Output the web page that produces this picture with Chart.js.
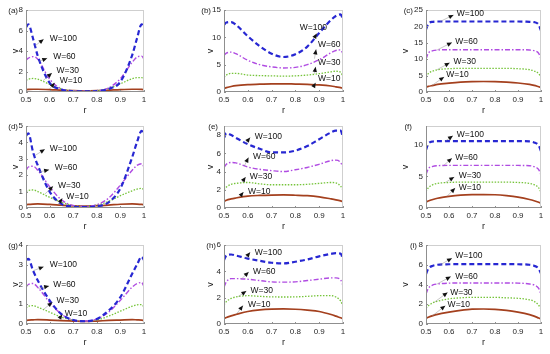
<!DOCTYPE html>
<html>
<head>
<meta charset="utf-8">
<script src="https://cdn.jsdelivr.net/npm/chart.js@4"></script>
<style>
  body { margin: 0; background: #fff; }
  #wrap { position: relative; width: 550px; height: 354px; overflow: hidden; background: #fff; }
  #wrap canvas { position: absolute; }
</style>
</head>
<body>
<div id="wrap"></div>
<script>
// Radial positions shared by all nine panels
const R = [0.5, 0.51, 0.53, 0.55, 0.6, 0.65, 0.7, 0.75, 0.8, 0.85, 0.9, 0.95, 0.97, 0.99, 1.0];
const W_LABELS = ['W=100', 'W=60', 'W=30', 'W=10'];
const PANEL_LABELS = ['(a)', '(b)', '(c)', '(d)', '(e)', '(f)', '(g)', '(h)', '(i)'];
const X_TICKS = [0.5, 0.6, 0.7, 0.8, 0.9, 1];
const Y_MAX = [8, 15, 25, 5, 9, 13, 4, 6, 8];
const Y_STEP = [2, 5, 5, 1, 2, 5, 1, 2, 2];

// (a)
const a100 = [6.3, 6.6, 5.2, 3.5, 0.9, 0.25, 0.08, 0.06, 0.1, 0.3, 1.0, 3.6, 5.2, 6.6, 6.4];
const a60  = [3.1, 3.3, 3.45, 3.2, 1.25, 0.3, 0.1, 0.08, 0.12, 0.4, 1.3, 2.9, 3.4, 3.5, 3.2];
const a30  = [1.15, 1.25, 1.32, 1.25, 0.75, 0.3, 0.12, 0.08, 0.12, 0.35, 0.8, 1.3, 1.4, 1.4, 1.3];
const a10  = [0.22, 0.25, 0.27, 0.27, 0.24, 0.18, 0.13, 0.11, 0.13, 0.18, 0.24, 0.27, 0.27, 0.25, 0.22];
// (b)
const b100 = [12.3, 12.7, 12.8, 12.3, 10.2, 8.4, 7.0, 6.4, 6.9, 8.3, 10.8, 13.2, 13.9, 14.2, 13.2];
const b60  = [6.7, 7.1, 7.3, 7.0, 5.8, 5.0, 4.6, 4.4, 4.5, 5.0, 5.9, 7.2, 7.6, 7.7, 7.0];
const b30  = [2.7, 3.1, 3.4, 3.4, 3.1, 3.0, 2.95, 2.9, 2.95, 3.1, 3.35, 3.7, 3.8, 3.6, 2.8];
const b10  = [0.6, 0.8, 1.0, 1.15, 1.35, 1.45, 1.5, 1.5, 1.45, 1.4, 1.3, 1.1, 0.95, 0.8, 0.7];
// (c)
const c100 = [19.0, 20.8, 21.4, 21.5, 21.5, 21.5, 21.5, 21.5, 21.5, 21.5, 21.5, 21.4, 21.3, 20.5, 18.7];
const c60  = [10.0, 11.8, 12.6, 12.8, 12.9, 12.9, 12.9, 12.9, 12.9, 12.9, 12.9, 12.8, 12.6, 11.8, 10.0];
const c30  = [4.6, 5.6, 6.4, 6.8, 7.1, 7.2, 7.2, 7.2, 7.2, 7.2, 7.1, 6.8, 6.4, 5.6, 4.5];
const c10  = [1.5, 1.7, 2.0, 2.3, 2.7, 3.0, 3.15, 3.2, 3.15, 3.0, 2.75, 2.3, 2.0, 1.6, 1.4];
// (d)
const d100 = [4.4, 4.55, 3.4, 2.6, 1.0, 0.25, 0.08, 0.05, 0.1, 0.35, 1.2, 3.1, 4.0, 4.7, 4.5];
const d60  = [2.3, 2.5, 2.55, 2.3, 1.3, 0.5, 0.15, 0.1, 0.2, 0.6, 1.4, 2.3, 2.6, 2.7, 2.5];
const d30  = [1.0, 1.07, 1.1, 1.0, 0.65, 0.35, 0.15, 0.1, 0.18, 0.4, 0.75, 1.05, 1.15, 1.2, 1.1];
const d10  = [0.2, 0.22, 0.24, 0.25, 0.22, 0.17, 0.13, 0.12, 0.14, 0.18, 0.23, 0.25, 0.24, 0.22, 0.2];
// (e)
const e100 = [7.7, 8.2, 8.0, 7.7, 7.0, 6.5, 6.1, 6.1, 6.3, 6.8, 7.55, 8.3, 8.5, 8.5, 7.7];
const e60  = [4.45, 4.8, 5.0, 4.95, 4.5, 4.25, 4.1, 4.0, 4.2, 4.45, 4.8, 5.2, 5.25, 5.0, 4.45];
const e30  = [2.0, 2.3, 2.6, 2.7, 2.8, 2.65, 2.55, 2.55, 2.55, 2.6, 2.7, 2.8, 2.75, 2.4, 1.95];
const e10  = [0.7, 0.85, 1.0, 1.1, 1.3, 1.38, 1.42, 1.43, 1.4, 1.35, 1.22, 1.0, 0.9, 0.78, 0.7];
// (f)
const f100 = [9.2, 10.2, 10.55, 10.6, 10.6, 10.6, 10.6, 10.6, 10.6, 10.6, 10.6, 10.55, 10.4, 9.9, 9.0];
const f60  = [5.3, 6.2, 6.6, 6.7, 6.75, 6.75, 6.75, 6.75, 6.75, 6.75, 6.75, 6.7, 6.55, 6.1, 5.2];
const f30  = [2.6, 3.2, 3.7, 3.9, 4.05, 4.1, 4.1, 4.1, 4.1, 4.1, 4.05, 3.9, 3.7, 3.2, 2.5];
const f10  = [0.93, 1.1, 1.35, 1.55, 1.85, 2.05, 2.12, 2.13, 2.1, 1.95, 1.72, 1.35, 1.15, 0.9, 0.75];
// (g)
const g100 = [3.23, 3.3, 2.7, 2.2, 1.2, 0.5, 0.2, 0.14, 0.25, 0.68, 1.36, 2.55, 3.0, 3.4, 3.23];
const g60  = [1.87, 2.0, 2.05, 1.85, 1.1, 0.5, 0.2, 0.15, 0.25, 0.6, 1.2, 1.87, 2.05, 2.1, 1.9];
const g30  = [0.82, 0.9, 0.93, 0.85, 0.6, 0.35, 0.2, 0.15, 0.2, 0.4, 0.65, 0.9, 0.97, 0.98, 0.85];
const g10  = [0.18, 0.2, 0.21, 0.22, 0.2, 0.17, 0.15, 0.13, 0.15, 0.18, 0.2, 0.22, 0.21, 0.2, 0.18];
// (h)
const h100 = [4.85, 5.2, 5.28, 5.2, 4.97, 4.8, 4.65, 4.6, 4.73, 4.9, 5.14, 5.33, 5.38, 5.35, 4.9];
const h60  = [2.8, 3.2, 3.45, 3.45, 3.4, 3.3, 3.2, 3.18, 3.2, 3.3, 3.4, 3.5, 3.5, 3.35, 2.9];
const h30  = [1.45, 1.7, 1.95, 2.05, 2.15, 2.1, 2.06, 2.05, 2.06, 2.1, 2.15, 2.15, 2.05, 1.75, 1.35];
const h10  = [0.41, 0.5, 0.62, 0.72, 0.95, 1.07, 1.13, 1.15, 1.12, 1.05, 0.95, 0.72, 0.6, 0.47, 0.41];
// (i)
const i100 = [5.05, 5.6, 5.9, 6.0, 6.05, 6.06, 6.06, 6.06, 6.06, 6.06, 6.05, 6.0, 5.9, 5.6, 5.1];
const i60  = [3.03, 3.6, 3.95, 4.05, 4.14, 4.15, 4.15, 4.15, 4.15, 4.15, 4.14, 4.05, 3.95, 3.6, 3.0];
const i30  = [1.6, 1.85, 2.15, 2.3, 2.55, 2.65, 2.7, 2.7, 2.7, 2.65, 2.6, 2.45, 2.3, 1.9, 1.5];
const i10  = [0.57, 0.68, 0.85, 0.98, 1.2, 1.38, 1.5, 1.52, 1.48, 1.38, 1.2, 0.95, 0.8, 0.6, 0.5];

const SERIES = [
    [a100, a60, a30, a10], [b100, b60, b30, b10], [c100, c60, c30, c10],
    [d100, d60, d30, d10], [e100, e60, e30, e10], [f100, f60, f30, f10],
    [g100, g60, g30, g10], [h100, h60, h30, h10], [i100, i60, i30, i10]
];

// Text-arrow placement (data coords): [textX, textY, headX, headY, tailX, tailY]
const NOTES = [
    [[0.601, 5.2, 0.575, 5.15, 0.538, 4.5], [0.615, 3.47, 0.59, 3.3, 0.556, 3.0], [0.629, 2.05, 0.61, 1.85, 0.572, 1.1], [0.643, 1.1, 0.622, 0.9, 0.6, 0.3]],
    [[0.818, 11.7, 0.89, 10.7, 0.878, 9.8], [0.895, 8.6, 0.887, 7.8, 0.88, 6.1], [0.895, 5.4, 0.885, 4.6, 0.88, 3.35], [0.895, 2.4, 0.885, 1.7, 0.88, 1.3]],
    [[0.634, 23.8, 0.62, 23.5, 0.562, 21.5], [0.627, 15.4, 0.613, 15.1, 0.548, 12.8], [0.62, 9.3, 0.603, 8.9, 0.548, 6.8], [0.588, 5.3, 0.579, 4.6, 0.526, 2.0]],
    [[0.601, 3.64, 0.58, 3.58, 0.538, 3.2], [0.622, 2.43, 0.598, 2.33, 0.556, 2.2], [0.636, 1.38, 0.615, 1.33, 0.58, 0.85], [0.671, 0.71, 0.654, 0.6, 0.636, 0.2]],
    [[0.629, 7.8, 0.61, 7.75, 0.59, 7.1], [0.622, 5.6, 0.603, 5.55, 0.585, 4.6], [0.608, 3.45, 0.591, 3.4, 0.575, 2.8], [0.601, 1.8, 0.582, 1.75, 0.565, 1.2]],
    [[0.634, 11.7, 0.617, 11.45, 0.584, 10.6], [0.627, 8.0, 0.613, 7.9, 0.577, 6.75], [0.642, 5.1, 0.623, 4.9, 0.584, 4.05], [0.642, 3.26, 0.627, 3.16, 0.591, 1.85]],
    [[0.601, 2.98, 0.575, 2.9, 0.531, 2.7], [0.615, 2.0, 0.598, 1.92, 0.552, 1.8], [0.629, 1.19, 0.612, 1.1, 0.575, 0.75], [0.664, 0.51, 0.654, 0.48, 0.636, 0.18]],
    [[0.629, 5.45, 0.61, 5.45, 0.59, 5.0], [0.622, 4.0, 0.604, 3.95, 0.573, 3.42], [0.611, 2.55, 0.594, 2.5, 0.559, 2.08], [0.601, 1.5, 0.58, 1.4, 0.552, 0.75]],
    [[0.627, 6.9, 0.613, 6.67, 0.562, 6.0], [0.627, 4.8, 0.608, 4.8, 0.548, 4.05], [0.605, 3.2, 0.594, 3.2, 0.536, 2.2], [0.594, 1.95, 0.584, 1.85, 0.526, 0.8]]
];

// Layout of the 3x3 grid (plot-area boxes, page pixels)
const COL_LEFT = [26, 224, 426];
const COL_W = [118, 119, 115];
const ROW_TOP = [10, 126, 245];
const ROW_H = [82, 82, 79];
const LABEL_DX = [-8, -13, -13, -8, -6, -14, -8, -8, -9];
const VLABEL_DX = [-10, -13, -20];
const YW = 26, XH = 28, PT = 8, PR = 6;
const FONT = '"Liberation Sans", Arial, sans-serif';

const STYLES = [
    { color: '#2727d2', width: 2.2, dash: [5, 3] },
    { color: '#b04ce2', width: 1.4, dash: [5, 2, 1.5, 2] },
    { color: '#76c43a', width: 1.3, dash: [1.5, 1.5] },
    { color: '#a4401e', width: 1.7, dash: [] }
];

function drawArrow(ctx, x0, y0, x1, y1) {
    ctx.save();
    ctx.strokeStyle = 'rgba(140,140,140,0.8)';
    ctx.lineWidth = 0.6;
    ctx.beginPath();
    ctx.moveTo(x0, y0);
    ctx.lineTo(x1, y1);
    ctx.stroke();
    const ang = Math.atan2(y1 - y0, x1 - x0);
    const L = 5, hw = 2.2;
    const bx = x1 - L * Math.cos(ang), by = y1 - L * Math.sin(ang);
    ctx.fillStyle = '#111';
    ctx.beginPath();
    ctx.moveTo(x1, y1);
    ctx.lineTo(bx + hw * Math.sin(ang), by - hw * Math.cos(ang));
    ctx.lineTo(bx - hw * Math.sin(ang), by + hw * Math.cos(ang));
    ctx.closePath();
    ctx.fill();
    ctx.restore();
}

// Box, inward ticks, panel label, axis titles and W= annotations
const decoPlugin = {
    id: 'deco',
    afterDraw(chart, args, opts) {
        const ctx = chart.ctx;
        const { left, right, top, bottom } = chart.chartArea;
        const xs = chart.scales.x, ys = chart.scales.y;
        ctx.save();
        ctx.lineWidth = 1;
        ctx.strokeStyle = '#cfcfcf';
        ctx.beginPath();
        ctx.moveTo(left, top + 0.5); ctx.lineTo(right, top + 0.5);
        ctx.moveTo(right - 0.5, top); ctx.lineTo(right - 0.5, bottom);
        ctx.stroke();
        ctx.strokeStyle = '#8f8f8f';
        ctx.beginPath();
        ctx.moveTo(left + 0.5, top); ctx.lineTo(left + 0.5, bottom);
        ctx.moveTo(left, bottom - 0.5); ctx.lineTo(right, bottom - 0.5);
        xs.ticks.forEach(t => {
            const px = Math.round(xs.getPixelForValue(t.value)) + 0.5;
            ctx.moveTo(px, bottom); ctx.lineTo(px, bottom - 2);
        });
        ys.ticks.forEach(t => {
            const py = Math.round(ys.getPixelForValue(t.value)) + 0.5;
            ctx.moveTo(left, py); ctx.lineTo(left + 2, py);
        });
        ctx.stroke();

        ctx.fillStyle = '#222';
        ctx.font = '8px ' + FONT;
        ctx.textAlign = 'right';
        ctx.textBaseline = 'middle';
        ctx.fillText(opts.label, left + opts.labelDx, top + 1);

        ctx.font = '9px ' + FONT;
        ctx.textAlign = 'center';
        ctx.fillText('r', (left + right) / 2, bottom + 19);
        ctx.save();
        ctx.translate(left + opts.vDx, (top + bottom) / 2);
        ctx.rotate(-Math.PI / 2);
        ctx.fillText('v', 0, 0);
        ctx.restore();

        ctx.font = '8.5px ' + FONT;
        ctx.textAlign = 'left';
        opts.notes.forEach((n, k) => {
            const tx = xs.getPixelForValue(n[0]), ty = ys.getPixelForValue(n[1]);
            drawArrow(ctx, xs.getPixelForValue(n[4]), ys.getPixelForValue(n[5]),
                xs.getPixelForValue(n[2]), ys.getPixelForValue(n[3]));
            ctx.fillStyle = '#111';
            ctx.fillText(W_LABELS[k], tx, ty);
        });
        ctx.restore();
    }
};

const wrap = document.getElementById('wrap');

SERIES.forEach((group, p) => {
    const col = p % 3, row = Math.floor(p / 3);
    const canvas = document.createElement('canvas');
    const cw = YW + COL_W[col] + PR, chh = PT + ROW_H[row] + XH;
    canvas.width = cw;
    canvas.height = chh;
    canvas.style.left = (COL_LEFT[col] - YW) + 'px';
    canvas.style.top = (ROW_TOP[row] - PT) + 'px';
    canvas.style.width = cw + 'px';
    canvas.style.height = chh + 'px';
    wrap.appendChild(canvas);

    const datasets = group.map((vals, k) => ({
        label: W_LABELS[k],
        data: R.map((r, j) => ({ x: r, y: vals[j] })),
        borderColor: STYLES[k].color,
        borderWidth: STYLES[k].width,
        borderDash: STYLES[k].dash,
        pointRadius: 0,
        fill: false,
        cubicInterpolationMode: 'monotone',
        order: k
    }));

    const yTicks = [];
    for (let v = 0; v <= Y_MAX[p] + 1e-9; v += Y_STEP[p]) yTicks.push(v);

    new Chart(canvas, {
        type: 'line',
        data: { datasets },
        plugins: [decoPlugin],
        options: {
            responsive: false,
            animation: false,
            devicePixelRatio: 1,
            layout: { padding: { left: 0, top: PT, right: PR, bottom: 0 } },
            plugins: {
                legend: { display: false },
                tooltip: { enabled: false },
                deco: { label: PANEL_LABELS[p], labelDx: LABEL_DX[p], vDx: VLABEL_DX[col], notes: NOTES[p] }
            },
            scales: {
                x: {
                    type: 'linear', min: 0.5, max: 1,
                    grid: { display: false, drawTicks: false },
                    border: { display: false },
                    afterBuildTicks: s => { s.ticks = X_TICKS.map(v => ({ value: v })); },
                    ticks: {
                        padding: 3, color: '#262626', font: { size: 8, family: FONT }, maxRotation: 0,
                        callback: v => String(Math.round(v * 10) / 10)
                    },
                    afterFit: s => { s.height = XH; }
                },
                y: {
                    min: 0, max: Y_MAX[p],
                    grid: { display: false, drawTicks: false },
                    border: { display: false },
                    afterBuildTicks: s => { s.ticks = yTicks.map(v => ({ value: v })); },
                    ticks: { padding: 3, color: '#262626', font: { size: 8, family: FONT } },
                    afterFit: s => { s.width = YW; }
                }
            }
        }
    });
});
</script>
</body>
</html>
